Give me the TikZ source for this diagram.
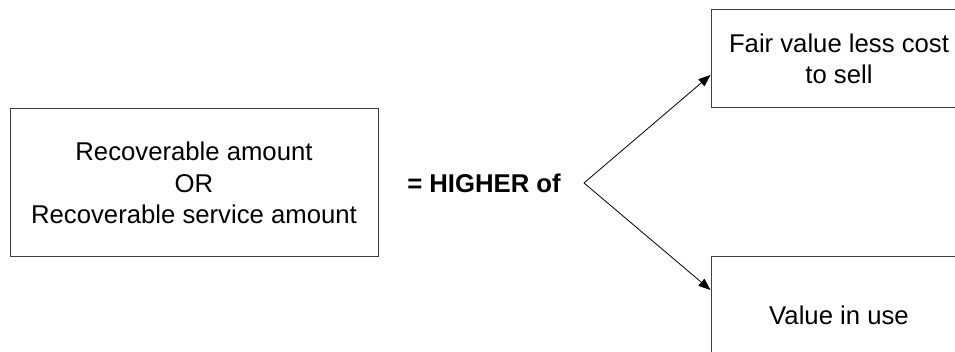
\documentclass[tikz,border=0pt]{standalone}
\usepackage{fontspec}
\setmainfont{Liberation Sans}
\usetikzlibrary{arrows.meta}
\begin{document}
\begin{tikzpicture}[x=0.5pt,y=0.5pt,
    box/.style={draw=black!75, line width=0.5pt, align=center, inner sep=0pt,
        font=\fontsize{12.85}{15.6}\selectfont},
    link/.style={-{Triangle[length=6pt,width=4.6pt]}, line width=0.4pt}]
    \useasboundingbox (0,0) rectangle (955,352);
    \clip (0,0) rectangle (955,352);
    %draw boxes
    \node [box, minimum width=184pt, minimum height=74pt] (recov) at (194,169)
        {Recoverable amount\\OR\\Recoverable service amount};
    \node [box, minimum width=128pt, minimum height=49pt] (fair) at (839,293)
        {Fair value less cost\\to sell};
    \node [box, minimum width=128pt, minimum height=58pt] (use) at (839,37)
        {Value in use};
    \node [font=\fontsize{12.85}{15.6}\selectfont\bfseries] (higher) at (484,169) {= HIGHER of};
    %draw arrows
    \coordinate (apex) at (584,169);
    \draw [link] (apex) -- ([yshift=-8pt]fair.west);
    \draw [link] (apex) -- ([yshift=12.5pt]use.west);
\end{tikzpicture}
\end{document}
